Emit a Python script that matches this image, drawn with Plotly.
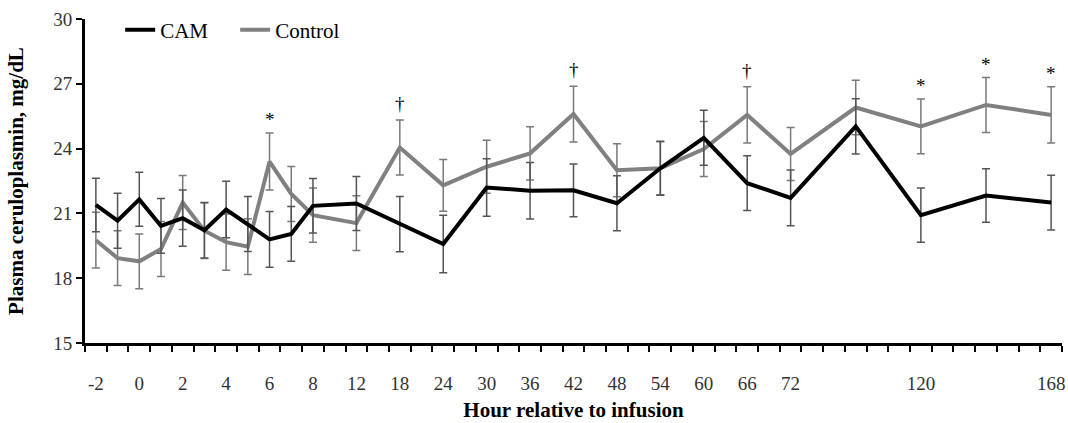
import plotly.graph_objects as go

# Hours at which samples were taken (category keys)
hours = ["-2", "-1", "0", "1", "2", "3", "4", "5", "6", "7", "8", "12", "18", "24",
         "30", "36", "42", "48", "54", "60", "66", "72", "96", "120", "144", "168"]

cam = [21.39, 20.66, 21.65, 20.42, 20.78, 20.22, 21.18, 20.51, 19.80, 20.05, 21.35, 21.46,
       20.50, 19.58, 22.20, 22.05, 22.07, 21.47, 23.09, 24.50, 22.40, 21.72, 25.03, 20.92,
       21.83, 21.50]
cam_se = [1.24, 1.27, 1.25, 1.27, 1.30, 1.29, 1.31, 1.27, 1.29, 1.27, 1.26, 1.25,
          1.28, 1.33, 1.33, 1.31, 1.22, 1.27, 1.25, 1.27, 1.27, 1.29, 1.28, 1.26,
          1.24, 1.27]

control = [19.76, 18.93, 18.78, 19.35, 21.50, 20.20, 19.67, 19.46, 23.40, 21.90, 20.92, 20.55,
           24.05, 22.30, 23.16, 23.78, 25.60, 23.00, 23.09, 23.98, 25.56, 23.75, 25.90, 25.03,
           26.02, 25.56]
control_se = [1.29, 1.27, 1.27, 1.27, 1.25, 1.29, 1.30, 1.29, 1.32, 1.27, 1.26, 1.27,
              1.27, 1.20, 1.23, 1.23, 1.29, 1.23, 1.23, 1.27, 1.30, 1.23, 1.26, 1.27,
              1.27, 1.30]

# Category axis slots (gaps are unlabeled, evenly spaced categories)
x_categories = ["-2", "-1", "0", "1", "2", "3", "4", "5", "6", "7", "8", "g1", "12", "g2",
                "18", "g3", "24", "g4", "30", "g5", "36", "g6", "42", "g7", "48", "g8",
                "54", "g9", "60", "g10", "66", "g11", "72", "g12", "g13", "96", "g14", "g15",
                "120", "g16", "g17", "144", "g18", "g19", "168"]
x_tick_labels = ["-2", "", "0", "", "2", "", "4", "", "6", "", "8", "", "12", "",
                 "18", "", "24", "", "30", "", "36", "", "42", "", "48", "",
                 "54", "", "60", "", "66", "", "72", "", "", "", "", "",
                 "120", "", "", "", "", "", "168"]

y_ticks = [15, 18, 21, 24, 27, 30]

sig_hours = ["6", "18", "42", "66", "120", "144", "168"]
sig_symbols = ["*", "†", "†", "†", "*", "*", "*"]

FONT = "Liberation Serif, Times New Roman, serif"
TICK_COLOR = "#333333"

fig = go.Figure()
fig.add_trace(go.Scatter(
    x=hours, y=control, name="Control", mode="lines",
    line=dict(color="#808080", width=4),
    error_y=dict(type="data", array=control_se, visible=True, color="#7a7a7a",
                 thickness=1.5, width=4),
    showlegend=False,
))
fig.add_trace(go.Scatter(
    x=hours, y=cam, name="CAM", mode="lines",
    line=dict(color="black", width=4),
    error_y=dict(type="data", array=cam_se, visible=True, color="#555555",
                 thickness=1.5, width=4),
    showlegend=False,
))
# legend entries (order: CAM then Control)
fig.add_trace(go.Scatter(x=[None], y=[None], name="CAM", mode="lines",
                         line=dict(color="black", width=4)))
fig.add_trace(go.Scatter(x=[None], y=[None], name="Control", mode="lines",
                         line=dict(color="#808080", width=4)))

for h, s in zip(sig_hours, sig_symbols):
    i = hours.index(h)
    fig.add_annotation(x=x_categories.index(h), y=control[i] + control_se[i], text=s,
                       showarrow=False, yanchor="bottom", yshift=1 if s == "*" else 4,
                       font=dict(family=FONT, size=19, color="black"))

fig.update_layout(
    width=1068, height=423,
    margin=dict(l=85, r=6, t=19, b=80, autoexpand=False),
    plot_bgcolor="white", paper_bgcolor="white",
    font=dict(family=FONT, size=19, color="black"),
    legend=dict(orientation="h", x=0.036, y=0.966, xanchor="left", yanchor="middle",
                font=dict(family=FONT, size=21, color="black"),
                bgcolor="rgba(0,0,0,0)", entrywidth=70, entrywidthmode="pixels",
                tracegroupgap=0),
)
fig.update_xaxes(
    type="category", categoryorder="array", categoryarray=x_categories,
    range=[-0.5, len(x_categories) - 0.5], automargin=False,
    tickmode="array", tickvals=x_categories, ticktext=x_tick_labels, tickangle=0,
    tickson="boundaries", ticks="outside", ticklen=6, tickwidth=2, tickcolor="black",
    showline=True, linecolor="black", linewidth=3, showgrid=False, zeroline=False,
    ticklabelstandoff=21,
    tickfont=dict(family=FONT, size=19, color=TICK_COLOR),
    title=dict(text="<b>Hour relative to infusion</b>", standoff=10,
               font=dict(family=FONT, size=21, color="black")),
)
fig.update_yaxes(
    range=[15, 30], tickmode="array", tickvals=y_ticks, automargin=False,
    ticks="outside", ticklen=6, tickwidth=2, tickcolor="black",
    showline=True, linecolor="black", linewidth=3, showgrid=False, zeroline=False,
    tickfont=dict(family=FONT, size=19, color=TICK_COLOR),
    title=dict(text="<b>Plasma ceruloplasmin, mg/dL</b>", standoff=24,
               font=dict(family=FONT, size=21, color="black")),
)

fig.write_html(
    "out.html",
    config={"displayModeBar": False},
    post_script="document.body.style.margin='0px';document.body.style.overflow='hidden';",
)
